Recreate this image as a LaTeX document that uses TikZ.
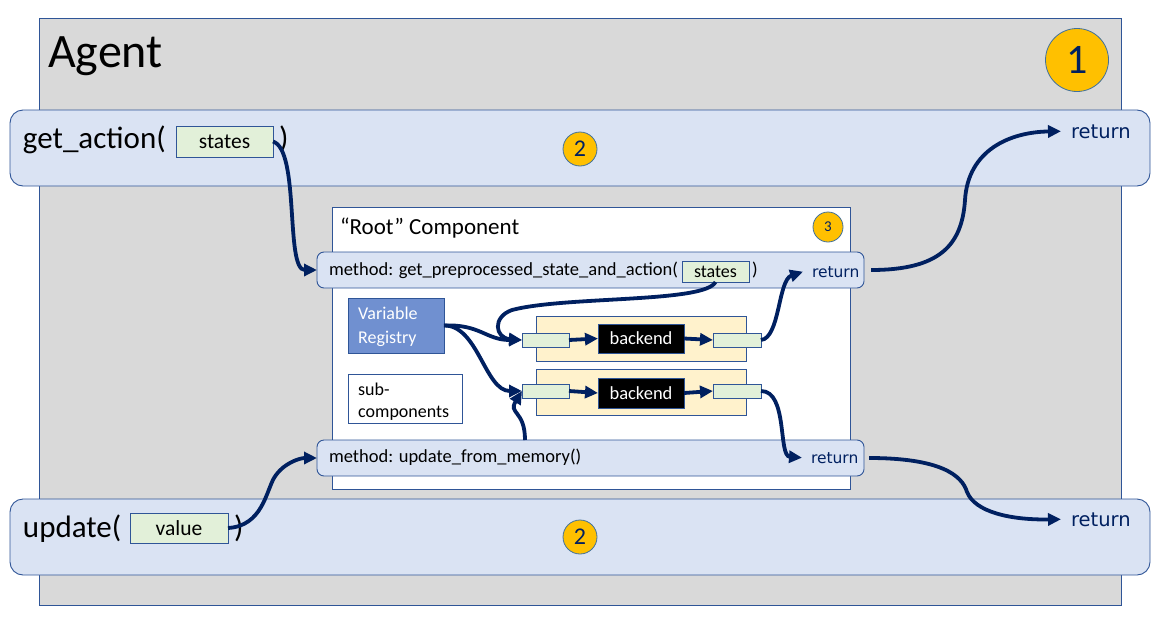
\documentclass[tikz,border=0pt]{standalone}
\usepackage{fontspec}
\setmainfont{Carlito}
\newfontfamily\dvs{DejaVu Sans}
\usetikzlibrary{arrows.meta,fit}
\definecolor{agentgray}{HTML}{D9D9D9}
\definecolor{bord}{HTML}{2F5597}
\definecolor{bandblue}{HTML}{DAE3F3}
\definecolor{lightgreen}{HTML}{E2F0D9}
\definecolor{yel}{HTML}{FFF2CC}
\definecolor{navy}{HTML}{002060}
\definecolor{gold}{HTML}{FFC000}
\definecolor{regblue}{HTML}{7090D0}
\definecolor{circbord}{HTML}{41719C}
\begin{document}
\begin{tikzpicture}[x=1pt,y=-1pt,
  box/.style={draw=bord,line width=0.9pt,inner sep=0pt,outer sep=0pt},
  bandbox/.style={box,fill=bandblue,rounded corners=#1},
  gbox/.style={box,fill=lightgreen},
  numcirc/.style={circle,draw=circbord,line width=0.8pt,fill=gold,inner sep=0pt,text=navy},
  conn/.style={draw=navy,line width=3.8pt,-{Triangle[length=13pt,width=12pt]}},
  lbl/.style={anchor=base west,inner sep=0pt,outer sep=0pt},
  ctr/.style={inner sep=0pt,outer sep=0pt},
  ret/.style={lbl,text=navy},
  big/.style={font=\fontsize{31}{36}\selectfont},
  mid/.style={font=\fontsize{21.5}{24}\selectfont},
  meth/.style={font=\fontsize{18.5}{22}\selectfont}
]
\useasboundingbox (0,0) rectangle (1167,624);

% Agent
\node[box,fill=agentgray,fit={(39,18)(1121,605)}] (agent) {};
\node[lbl,font=\fontsize{48}{52}\selectfont] (agentlbl) at (48,67) {Agent};
\node[numcirc,minimum size=63pt,font=\fontsize{42}{42}\selectfont] (c1) at (1077,60) {1};

% get_action band
\node[bandbox=13pt,fit={(10,110)(1150,186)}] (gaband) {};
\node[lbl,big] (galbl) at (23,148) {get\_action(};
\node[gbox,fit={(176,126)(273,157)}] (gast) {};
\node[ctr,mid] (gasttxt) at (gast.center) {states};
\node[lbl,big] (gaclose) at (279,148) {)};
\node[numcirc,minimum size=34pt,font=\fontsize{24}{24}\selectfont] (c2a) at (580,149) {2};
\node[ret,font=\dvs\fontsize{19.5}{22}\selectfont] (retga) at (1071,138) {return};

% update band
\node[bandbox=13pt,fit={(10,499)(1150,575)}] (upband) {};
\node[lbl,big] (uplbl) at (23,537) {update(};
\node[gbox,fit={(130,513)(228,543)}] (val) {};
\node[ctr,mid] (valtxt) at (val.center) {value};
\node[lbl,big] (upclose) at (234,537) {)};
\node[numcirc,minimum size=34pt,font=\fontsize{24}{24}\selectfont] (c2b) at (580,537) {2};
\node[ret,font=\dvs\fontsize{19.5}{22}\selectfont] (retup) at (1071,526) {return};

% Root component
\node[box,fill=white,fit={(332,207)(850,489)}] (root) {};
\node[lbl,font=\fontsize{23}{26}\selectfont] (rootlbl) at (340,234) {“Root” Component};
\node[numcirc,minimum size=30pt,font=\fontsize{15}{15}\selectfont] (c3) at (828,227) {3};

% method 1
\node[bandbox=7pt,fit={(317,252)(864,288)}] (m1) {};
\node[lbl,meth] (m1lbl) at (329,275) {method: get\_preprocessed\_state\_and\_action(};
\node[gbox,fit={(682,261)(749,282)}] (m1st) {};
\node[ctr,font=\fontsize{18}{20}\selectfont] (m1sttxt) at (m1st.center) {states};
\node[lbl,meth] (m1close) at (752,275) {)};
\node[ret,font=\dvs\fontsize{15.5}{18}\selectfont] (ret1) at (812,277) {return};

% method 2
\node[bandbox=7pt,fit={(317,440)(864,476)}] (m2) {};
\node[lbl,meth] (m2lbl) at (329,462) {method: update\_from\_memory()};
\node[ret,font=\dvs\fontsize{15.5}{18}\selectfont] (ret2) at (811,463) {return};

% registry and sub-components
\node[box,fill=regblue,fit={(348,298)(444,353)}] (vr) {};
\node[anchor=north west,inner sep=0pt,align=left,text=white,font=\fontsize{18}{24}\selectfont] (vrlbl) at (358,306.5) {Variable\\Registry};
\node[box,fill=white,fit={(348,374)(462,423)}] (sub) {};
\node[anchor=north west,inner sep=0pt,align=left,font=\fontsize{18}{22.3}\selectfont] (sublbl) at (358,382.5) {sub-\\components};

% rows
\node[box,fill=yel,fit={(536,316)(746,361)}] (row1) {};
\node[box,fill=yel,fit={(536,369)(746,415)}] (row2) {};
\node[gbox,fit={(522,333)(569,347)}] (r1l) {};
\node[gbox,fit={(713,333)(761,347)}] (r1r) {};
\node[gbox,fit={(522,384)(569,398)}] (r2l) {};
\node[gbox,fit={(713,384)(761,398)}] (r2r) {};
\node[box,fill=black,fit={(598,324)(684,353)}] (be1) {};
\node[ctr,text=white,meth] (be1txt) at (be1.center) {backend};
\node[box,fill=black,fit={(598,378)(684,408)}] (be2) {};
\node[ctr,text=white,meth] (be2txt) at (be2.center) {backend};

% connectors
\draw[conn] (r1l.east) -- (be1.west);
\draw[conn] (be1.east) -- (r1r.west);
\draw[conn] (r2l.east) -- (be2.west);
\draw[conn] (be2.east) -- (r2r.west);

\draw[conn] (gast.east) .. controls (300,150) and (285,270) .. (m1.west);
\draw[conn] ([xshift=7pt]m1.east) .. controls (940,270) and (962,245) .. (965,200) .. controls (968,150) and (1010,132) .. ([xshift=-10pt]retga.west);
\draw[conn] (m1st.south) .. controls (705,303) and (565,296) .. (512,310) .. controls (492,317) and (495,338) .. (r1l.west);
\draw[conn] (vr.east) .. controls (480,324) and (486,340) .. (r1l.west);
\draw[conn] (vr.east) .. controls (478,325) and (485,391) .. (r2l.west);
\coordinate (m2up) at (525,440);
\draw[conn] (m2up) .. controls (525,410) and (508,414) .. (r2l.west);
\draw[conn] (r1r.east) .. controls (780,338) and (778,280) .. ([xshift=-9pt]ret1.west);
\draw[conn] (r2r.east) .. controls (788,391) and (778,456) .. ([xshift=-9pt]ret2.west);
\draw[conn] ([xshift=5pt]m2.east) .. controls (940,458) and (962,475) .. (967,492) .. controls (975,512) and (1010,520) .. ([xshift=-10pt]retup.west);
\draw[conn] (val.east) .. controls (262,526) and (266,492) .. (274,478) .. controls (283,463) and (300,458) .. (m2.west);
\end{tikzpicture}
\end{document}
